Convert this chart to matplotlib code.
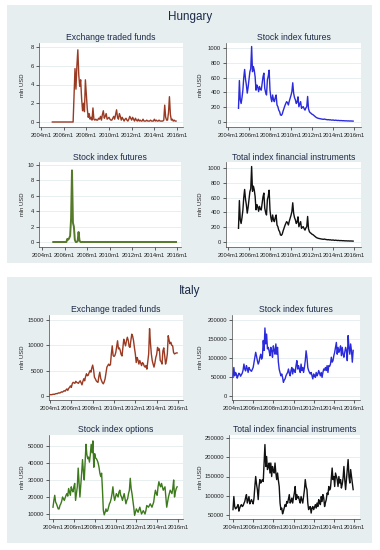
import numpy as np
import matplotlib
matplotlib.use('Agg')
from matplotlib import pyplot as plt
from matplotlib.patches import Rectangle

plt.rcParams['font.family'] = ['Liberation Sans', 'DejaVu Sans']

# x axis: months since 2004m1
xtick_pos = [0, 24, 48, 72, 96, 120, 144]
xtick_lab = ['2004m1', '2006m1', '2008m1', '2010m1', '2012m1', '2014m1', '2016m1']

hu_start = 12  # 2005m1
it_start = 0   # 2004m1

# Hungary - Exchange traded funds (mln USD)
hu_etf = [0] * 23 + [
    2.8, 5.7, 3.5, 6.0, 7.7, 5.0, 3.8, 4.5, 2.5, 1.2, 2.0, 1.1, 4.5, 3.0, 1.4, 0.5,
    0.9, 0.3, 0.5, 0.2, 1.5, 0.3, 0.2, 0.3, 0.2, 0.2, 0.4, 0.3, 0.6, 0.2, 0.8, 1.2,
    0.4, 0.6, 0.9, 0.3, 0.4, 0.5, 0.3, 0.2, 0.2, 0.4, 0.6, 0.3, 0.8, 1.3, 0.5, 0.3,
    0.9, 0.6, 0.2, 0.5, 0.3, 0.1, 0.3, 0.4, 0.2, 0.1, 0.3, 0.6, 0.4, 0.2, 0.5, 0.3,
    0.1, 0.4, 0.2, 0.1, 0.3, 0.1, 0.2, 0.1, 0.1, 0.3, 0.1, 0.1, 0.1, 0.2, 0.1, 0.1,
    0.1, 0.2, 0.1, 0.1, 0.1, 0.3, 0.1, 0.2, 0.1, 0.1, 0.2, 0.1, 0.1, 0.1, 0.1, 0.2,
    1.8, 0.5, 0.2, 0.2, 1.0, 2.7, 0.8, 0.2, 0.3, 0.1, 0.2, 0.1, 0.1]

# Hungary - Stock index futures (mln USD)
hu_sif = [
    185, 560, 300, 250, 330, 430, 600, 710, 580, 500, 390, 470, 570, 680, 720, 1020,
    680, 750, 700, 610, 430, 500, 470, 410, 480, 440, 430, 520, 610, 660, 455, 400,
    365, 570, 620, 700, 430, 330, 275, 365, 300, 275, 330, 365, 230, 207, 160, 140,
    95, 90, 108, 150, 185, 220, 250, 275, 260, 230, 280, 320, 360, 410, 530, 390,
    330, 300, 250, 270, 340, 207, 240, 275, 185, 200, 207, 180, 160, 190, 207, 345,
    180, 140, 125, 117, 105, 100, 90, 80, 70, 60, 55, 50, 48, 45, 42, 40,
    38, 36, 40, 36, 34, 32, 30, 32, 28, 30, 26, 25, 28, 24, 22, 25,
    22, 20, 22, 20, 18, 20, 18, 17, 18, 16, 15, 16, 15, 14, 15, 13,
    14, 13, 12, 12]

# Hungary - second "Stock index futures" panel (mln USD)
hu_sif2 = [0] * 15 + [
    0.4, 0.3, 0.5, 0.8, 3.0, 9.3, 2.5, 2.0, 0.3, 0.0, 0.0, 0.1, 1.3, 0.2] + [0] * 103

# Hungary - Total index financial instruments (mln USD)
hu_total = [
    185, 560, 300, 250, 330, 430, 600, 710, 580, 500, 390, 470, 570, 680, 720, 1020,
    685, 755, 706, 615, 435, 505, 474, 415, 482, 442, 432, 521, 611, 661, 456, 401,
    365, 571, 620, 700, 430, 330, 275, 365, 300, 275, 330, 365, 230, 207, 160, 140,
    95, 90, 108, 150, 185, 220, 250, 275, 260, 230, 280, 320, 360, 410, 530, 390,
    330, 300, 250, 270, 340, 207, 240, 275, 185, 200, 207, 180, 160, 190, 207, 345,
    180, 140, 125, 117, 105, 100, 90, 80, 70, 60, 55, 50, 48, 45, 42, 40,
    38, 36, 40, 36, 34, 32, 30, 32, 28, 30, 26, 25, 28, 24, 22, 25,
    22, 20, 22, 20, 18, 20, 18, 17, 18, 16, 15, 16, 15, 14, 15, 13,
    14, 13, 12, 12]

# Italy - Exchange traded funds (mln USD)
it_etf = [
    250, 280, 260, 320, 350, 330, 420, 480, 450, 560, 620, 580, 700, 820, 760, 900,
    1050, 950, 1200, 1400, 1100, 1500, 1700, 2000, 1700, 2400, 2700, 2600, 2500, 2900, 2700, 2600,
    2500, 2800, 3000, 2600, 2200, 2900, 3400, 3000, 3800, 4400, 4000, 4100, 4600, 5000, 4700, 5500,
    6100, 5200, 3700, 3400, 3000, 2800, 2700, 3900, 4700, 3500, 3000, 2600, 2400, 2800, 3400, 4600,
    5700, 6000, 6300, 6000, 6200, 8300, 9900, 8000, 7800, 8000, 8600, 9800, 10900, 9300, 9500, 9000,
    8200, 7900, 9500, 11200, 10500, 9900, 10900, 11600, 11000, 9800, 9600, 11000, 12200, 11800, 10900, 9500,
    8300, 6600, 7600, 7100, 6300, 7000, 6500, 6000, 6600, 6400, 5900, 5700, 6000, 5300, 6800, 8300,
    13300, 10500, 8300, 7000, 6300, 5700, 6500, 7600, 8200, 9600, 9000, 9300, 7000, 6800, 6300, 8900,
    9500, 8000, 6300, 7000, 8300, 11900, 11000, 10300, 10600, 10000, 9900, 8600, 8300, 8400, 8500, 8500]

# Italy - Stock index futures (mln USD)
it_sif = [
    49000, 75000, 53000, 62000, 58000, 47000, 53000, 60000, 58000, 52000, 56000, 60000,
    68000, 84000, 71000, 66000, 80000, 72000, 62000, 75000, 70000, 67000, 65000, 70000,
    75000, 88000, 102000, 115000, 105000, 93000, 84000, 90000, 102000, 110000, 97000, 102000,
    146000, 120000, 179000, 137000, 163000, 124000, 128000, 118000, 106000, 128000, 119000, 102000,
    132000, 120000, 110000, 137000, 110000, 128000, 89000, 70000, 62000, 53000, 58000, 49000,
    36000, 42000, 45000, 53000, 58000, 62000, 71000, 60000, 53000, 67000, 75000, 58000,
    71000, 66000, 62000, 80000, 93000, 71000, 80000, 70000, 62000, 84000, 67000, 75000,
    62000, 75000, 93000, 119000, 102000, 75000, 67000, 62000, 58000, 62000, 53000, 45000,
    58000, 52000, 49000, 62000, 53000, 58000, 67000, 60000, 53000, 62000, 49000, 62000,
    71000, 68000, 75000, 67000, 80000, 62000, 80000, 78000, 84000, 102000, 89000, 93000,
    106000, 115000, 128000, 141000, 110000, 128000, 115000, 122000, 132000, 106000, 128000, 110000,
    102000, 115000, 128000, 119000, 93000, 159000, 128000, 110000, 137000, 119000, 89000, 120000]

# Italy - Stock index options (mln USD)
it_opt = [
    14000, 18000, 21000, 17000, 16000, 14500, 13000, 13000, 15000, 16000, 17500, 20000,
    19000, 18000, 19500, 21000, 22000, 20500, 25000, 23000, 21000, 26000, 24000, 23000,
    26000, 28000, 18000, 22000, 26000, 37000, 28000, 20000, 27000, 34000, 42000, 35000,
    30000, 40000, 51000, 45000, 42500, 43500, 40500, 45000, 51000, 46000, 53000, 37500,
    45500, 43000, 42500, 41500, 40000, 37500, 34000, 32000, 34000, 24000, 12000, 9500,
    11000, 13000, 11500, 12000, 14000, 16000, 17000, 19000, 22000, 26000, 21000, 18000,
    20000, 22000, 21000, 20000, 23000, 24000, 21000, 20000, 18000, 20000, 22000, 19000,
    16000, 18000, 19000, 22000, 24000, 31000, 25000, 22000, 18000, 14000, 9200, 11000,
    13000, 12000, 11000, 12500, 14000, 12000, 10000, 11000, 12000, 11000, 10000, 12000,
    15000, 14500, 14000, 15000, 16000, 15000, 14000, 15500, 17000, 21000, 24000, 22000,
    21000, 26000, 29000, 27000, 26000, 28000, 26000, 24000, 25000, 26000, 20000, 14000,
    17000, 20000, 22000, 24000, 23000, 22000, 25000, 30000, 20000, 23000, 25000, 26000]

# Italy - Total index financial instruments (mln USD)
it_total = [
    64000, 98000, 72000, 66000, 68000, 72000, 77000, 60000, 68000, 74000, 77000, 72000,
    74000, 80000, 85000, 95000, 103000, 81000, 90000, 98000, 79000, 85000, 90000, 84000,
    79000, 94000, 124000, 150000, 130000, 116000, 90000, 124000, 142000, 133000, 138000, 142000,
    137000, 185000, 233000, 176000, 202000, 168000, 175000, 185000, 159000, 185000, 150000, 176000,
    165000, 159000, 185000, 159000, 142000, 159000, 140000, 124000, 81000, 64000, 68000, 53000,
    60000, 68000, 77000, 72000, 85000, 81000, 92000, 103000, 81000, 85000, 94000, 81000,
    95000, 107000, 124000, 90000, 103000, 94000, 98000, 88000, 81000, 98000, 90000, 81000,
    98000, 115000, 142000, 124000, 116000, 81000, 64000, 70000, 72000, 55000, 68000, 72000,
    64000, 70000, 77000, 68000, 81000, 72000, 90000, 82000, 77000, 98000, 85000, 103000,
    94000, 72000, 82000, 90000, 107000, 103000, 124000, 115000, 120000, 146000, 172000, 142000,
    150000, 124000, 159000, 150000, 142000, 124000, 150000, 133000, 142000, 120000, 130000, 146000,
    176000, 142000, 116000, 142000, 165000, 194000, 150000, 133000, 168000, 150000, 130000, 116000]

c_etf = '#9a3a22'
c_sif = '#2b2bdc'
c_opt = '#3c7a1c'
c_hopt = '#557a2a'
c_tot = '#111111'
bg = '#e7eef0'
grid_c = '#e4ecef'
title_c = '#1c2a48'

W, H = 380, 550
fig = plt.figure(figsize=(W / 100, H / 100), dpi=100)

# panel backgrounds (pixel boxes)
for (l, t, r, b) in [(7, 5, 372, 263), (7, 277, 372, 543)]:
    fig.patches.append(Rectangle((l / W, 1 - b / H), (r - l) / W, (b - t) / H,
                                 transform=fig.transFigure, facecolor=bg,
                                 edgecolor='none', zorder=-10))

fig.text(190 / W, 1 - 17 / H, 'Hungary', ha='center', va='center',
         fontsize=8.4, color=title_c)
fig.text(190 / W, 1 - 291 / H, 'Italy', ha='center', va='center',
         fontsize=8.4, color=title_c)


def panel(box, xt, yt, yticks, x0, vals, color, title, title_y, ylab_x, lw=1.0):
    l, t, r, b = box
    ax = fig.add_axes([l / W, 1 - b / H, (r - l) / W, (b - t) / H], zorder=2)
    # map pixel positions of two ticks to data limits
    sx = (xt[1] - xt[0]) / 144.0
    ax.set_xlim((l - xt[0]) / sx, (r - xt[0]) / sx)
    (v0, p0), (v1, p1) = yt
    sy = (p0 - p1) / float(v1 - v0)
    ax.set_ylim(v0 - (b - p0) / sy, v0 + (p0 - t) / sy)
    x = x0 + np.arange(len(vals))
    ax.plot(x, vals, color=color, lw=lw, solid_joinstyle='round', zorder=3)
    ax.set_facecolor('white')
    ax.set_xticks(xtick_pos)
    ax.set_xticklabels(xtick_lab)
    ax.set_yticks(yticks)
    ax.set_yticklabels([str(v) for v in yticks])
    ax.grid(axis='y', color=grid_c, lw=0.6, zorder=0)
    ax.tick_params(labelsize=4.2, length=2.2, width=0.5, pad=1.5, colors='#222222')
    ax.tick_params(axis='x', pad=2)
    for s in ['top', 'right']:
        ax.spines[s].set_visible(False)
    for s in ['left', 'bottom']:
        ax.spines[s].set_linewidth(0.5)
        ax.spines[s].set_color('#444444')
    fig.text((l + r) / 2 / W, 1 - title_y / H, title, ha='center', va='center',
             fontsize=6.2, color=title_c)
    fig.text(ylab_x / W, 1 - (t + b) / 2 / H, 'mln USD', rotation=90,
             ha='center', va='center', fontsize=4.2, color='#222222')
    return ax


# Hungary
panel((39, 43, 183, 127), (41, 177), ((0, 122), (8, 47)), [0, 2, 4, 6, 8],
      hu_start, hu_etf, c_etf, 'Exchange traded funds', 37, 23)
panel((226, 43, 361, 127), (228, 354), ((0, 122), (1000, 48)),
      [0, 200, 400, 600, 800, 1000], hu_start, hu_sif, c_sif,
      'Stock index futures', 37, 200)
panel((39, 162, 181, 247), (42, 177), ((0, 242), (10, 165)), [0, 2, 4, 6, 8, 10],
      hu_start, hu_sif2, c_hopt, 'Stock index futures', 157, 23, lw=1.4)
panel((226, 162, 361, 247), (228, 354), ((0, 242), (1000, 168)),
      [0, 200, 400, 600, 800, 1000], hu_start, hu_total, c_tot,
      'Total index financial instruments', 157, 200)

# Italy
panel((49, 315, 183, 400), (50, 178), ((0, 396), (15000, 320)),
      [0, 5000, 10000, 15000], it_start, it_etf, c_etf,
      'Exchange traded funds', 310, 23)
panel((232, 315, 360, 400), (233, 354), ((0, 396), (200000, 320)),
      [0, 50000, 100000, 150000, 200000], it_start, it_sif, c_sif,
      'Stock index futures', 310, 200)
panel((49, 435, 183, 519), (53, 178), ((10000, 514), (50000, 446)),
      [10000, 20000, 30000, 40000, 50000], it_start, it_opt, c_opt,
      'Stock index options', 429, 23)
panel((229, 435, 360, 519), (233, 354), ((50000, 515), (250000, 438)),
      [50000, 100000, 150000, 200000, 250000], it_start, it_total, c_tot,
      'Total index financial instruments', 429, 200)

fig.savefig('out.png', dpi=100, facecolor='white')
